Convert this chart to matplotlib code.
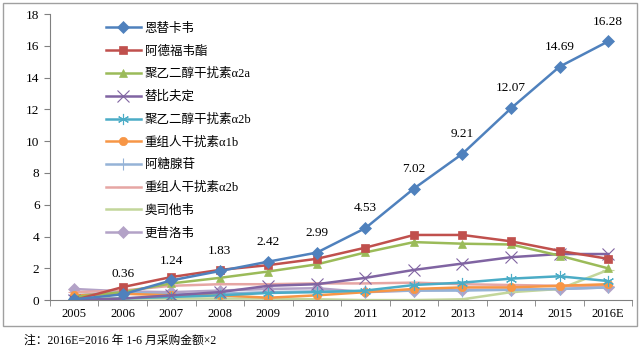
import matplotlib

matplotlib.use('AGG')

import matplotlib.pyplot as plt
from matplotlib.patches import Rectangle

plt.rcParams['font.family'] = ['Liberation Serif', 'Noto Sans CJK SC', 'DejaVu Sans']

years = ['2005', '2006', '2007', '2008', '2009', '2010',
         '2011', '2012', '2013', '2014', '2015', '2016E']

# 采购金额 by drug
entecavir = [0.05, 0.36, 1.24, 1.83, 2.42, 2.99, 4.53, 7.02, 9.21, 12.07, 14.69, 16.28]
adefovir = [0.0, 0.82, 1.45, 1.9, 2.2, 2.6, 3.3, 4.1, 4.1, 3.7, 3.1, 2.6]
peg_a2a = [0.2, 0.5, 1.05, 1.4, 1.8, 2.25, 3.0, 3.65, 3.55, 3.5, 2.8, 2.0]
telbivudine = [0.0, 0.1, 0.3, 0.5, 0.9, 1.0, 1.4, 1.9, 2.3, 2.7, 2.9, 2.9]
peg_a2b = [0.0, 0.1, 0.2, 0.3, 0.45, 0.5, 0.6, 0.95, 1.1, 1.35, 1.5, 1.2]
ifn_a1b = [0.3, 0.4, 0.3, 0.3, 0.15, 0.3, 0.5, 0.7, 0.8, 0.8, 0.9, 1.0]
vidarabine = [0.3, 0.5, 0.35, 0.4, 0.5, 0.55, 0.55, 0.6, 0.6, 0.65, 0.7, 0.8]
ifn_a2b = [0.5, 0.6, 0.9, 1.0, 1.0, 1.05, 1.05, 1.1, 1.0, 0.95, 0.9, 0.9]
oseltamivir = [0.1, 0.1, 0.1, 0.1, 0.1, 0.05, 0.0, 0.0, 0.05, 0.5, 0.7, 1.9]
ganciclovir = [0.7, 0.55, 0.5, 0.6, 0.7, 0.75, 0.5, 0.6, 0.65, 0.65, 0.7, 0.8]

asterisk = (6, 2, 0)
series = [
    ('恩替卡韦', entecavir, '#4F81BD', 'D'),
    ('阿德福韦酯', adefovir, '#C0504D', 's'),
    ('聚乙二醇干扰素α2a', peg_a2a, '#9BBB59', '^'),
    ('替比夫定', telbivudine, '#8064A2', 'x'),
    ('聚乙二醇干扰素α2b', peg_a2b, '#4BACC6', asterisk),
    ('重组人干扰素α1b', ifn_a1b, '#F79646', 'o'),
    ('阿糖腺苷', vidarabine, '#95B3D7', '+'),
    ('重组人干扰素α2b', ifn_a2b, '#E6A6A4', '_'),
    ('奥司他韦', oseltamivir, '#C3D69B', '_'),
    ('更昔洛韦', ganciclovir, '#B3A2C7', 'D'),
]
thin = ('x', '+', '_', asterisk)

fig = plt.figure(figsize=(6.4, 3.62), dpi=100)
fig.patches.append(Rectangle((0.005, 0.1), 0.99, 0.893, transform=fig.transFigure,
                             fill=False, edgecolor='#A0A0A0', linewidth=1.0))
ax = fig.add_axes([0.078, 0.171, 0.91, 0.79])

x = list(range(len(years)))
for label, vals, color, marker in reversed(series):
    is_thin = any(marker is m for m in thin) if not isinstance(marker, str) else marker in thin
    ms = 8 if is_thin else 6
    ax.plot(x, vals, '-', color=color, marker=marker, markersize=ms,
            linewidth=1.8, markeredgewidth=0.8 if is_thin else 0.5,
            markeredgecolor=color, label=label)

for i, v in enumerate(entecavir):
    if i == 0:
        continue
    ax.annotate('%.2f' % v, (i, v), xytext=(0, 10), textcoords='offset points',
                ha='center', va='bottom', fontsize=9.5)

ax.set_xlim(-0.45, 11.5)
ax.set_ylim(0, 18)
ax.set_yticks(range(0, 19, 2))
ax.set_xticks(x)
ax.set_xticklabels(years, fontsize=9)
ax.set_xticks([i + 0.5 for i in range(-1, 12)], minor=True)
ax.tick_params(axis='x', which='major', length=0, pad=6)
ax.tick_params(axis='x', which='minor', length=4, color='#808080')
ax.tick_params(axis='y', labelsize=9.5, length=4, color='#808080')
for side in ('top', 'right'):
    ax.spines[side].set_visible(False)
for side in ('left', 'bottom'):
    ax.spines[side].set_color('#808080')

handles, labels = ax.get_legend_handles_labels()
leg = ax.legend(handles[::-1], labels[::-1], loc='upper left',
                bbox_to_anchor=(0.148, 0.968), bbox_transform=fig.transFigure,
                frameon=False, fontsize=9, labelspacing=0.85,
                handlelength=2.8, handletextpad=0.3)

fig.text(0.038, 0.058, '注：2016E=2016 年 1-6 月采购金额×2', fontsize=8.5,
         va='center', ha='left')

plt.savefig('out.png', dpi=100)
